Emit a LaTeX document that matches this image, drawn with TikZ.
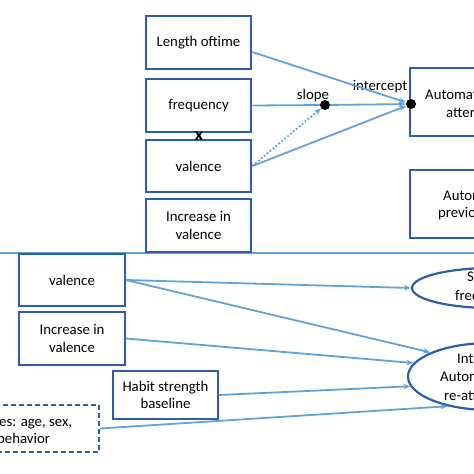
\documentclass[tikz,border=0pt]{standalone}
\usepackage{fontspec}
\setmainfont{Carlito}
\usetikzlibrary{shapes.geometric,arrows.meta,positioning}
\definecolor{boxblue}{RGB}{44,94,172}
\definecolor{linkblue}{RGB}{98,162,218}

\begin{document}
\begin{tikzpicture}[x=1pt, y=-1pt,
    blk/.style={draw=boxblue, line width=2.2pt, minimum width=105.5pt, minimum height=52.5pt, align=center, inner sep=2pt, font=\fontsize{14.8}{17.5}\selectfont},
    oval/.style={ellipse, draw=boxblue, line width=2.2pt, inner sep=0pt},
    link/.style={draw=linkblue, line width=1.8pt, -{Stealth[length=7pt,width=5.5pt]}},
    dot/.style={circle, fill=black, minimum size=10pt, inner sep=0pt},
    lbl/.style={font=\fontsize{14.8}{17.5}\selectfont, inner sep=0pt, anchor=base west}]
    \useasboundingbox (0,0) rectangle (474,474);
    \clip (0,0) rectangle (474,474);

    % Separator
    \draw[linkblue, line width=1.6pt] (0,253) -- (474,253);

    % Upper model boxes
    \foreach \name/\txt/\y in {len/Length oftime/42.5, freq/frequency/105.5, val/valence/166, inc/{Increase in\\valence}/225.5} {
        \node[blk] (\name) at (198.5,\y) {\txt};
    }
    \node[font=\fontsize{18}{18}\selectfont\bfseries, inner sep=0pt] (cross) at (199,136) {x};

    % Outcome boxes (cut at the edge)
    \node[blk, minimum width=130pt, minimum height=68pt] (autatt) at (475,102) {};
    \node[lbl] (autatt1) at (425,99) {Automat};
    \node[lbl] (autatt2) at (446,117) {atter};
    \node[blk, minimum width=130pt, minimum height=68pt] (autprev) at (475,204) {};
    \node[lbl] (autprev1) at (443,200) {Autom};
    \node[lbl] (autprev2) at (438,217) {previo};

    % Growth parameters
    \node[dot] (slopept) at (325,105) {};
    \node[dot] (icpt) at (411,104) {};
    \node[font=\fontsize{14.8}{17.5}\selectfont, inner sep=0pt, anchor=base] (slopelbl) at (313,99) {slope};
    \node[font=\fontsize{14.8}{17.5}\selectfont, inner sep=0pt, anchor=base] (icptlbl) at (380,90.5) {intercept};

    \draw[link] (len.-10) -- (icpt);
    \draw[link, -] (freq.east) -- (slopept);
    \draw[link] (slopept) -- (icpt);
    \draw[link] (val.east) -- (icpt);
    \draw[link, dotted] (val.east) -- (slopept);

    % Lower model boxes
    \node[blk] (val2) at (72,280) {valence};
    \node[blk] (inc2) at (72,338.5) {Increase in\\valence};
    \node[blk, minimum width=104.5pt, minimum height=47.5pt] (habit) at (165.5,395) {Habit strength\\baseline};
    \node[blk, dashed, dash pattern=on 5pt off 3pt, minimum width=118pt, minimum height=47pt] (cov) at (40,428.5) {};
    \node[lbl] (cov1) at (-1,426.5) {es: age, sex,};
    \node[lbl] (cov2) at (-3,443) {behavior};

    % Outcome ellipses
    \node[oval, minimum width=160pt, minimum height=40pt] (freqov) at (492,288) {};
    \node[lbl] (freqov1) at (467,281.5) {S};
    \node[lbl] (freqov2) at (455,300) {freq};
    \node[oval, minimum width=164pt, minimum height=67pt] (intov) at (490,376.5) {};
    \node[lbl] (intov1) at (457,363) {Int};
    \node[lbl] (intov2) at (440,381.5) {Autom};
    \node[lbl] (intov3) at (444,400) {re-att};

    \draw[link] (val2.east) -- (freqov.west);
    \draw[link] (val2.east) -- (intov.158);
    \draw[link] (inc2.east) -- (intov.170);
    \draw[link] (habit.east) -- (intov.187);
    \draw[link] (cov.east) -- (intov.215);

\end{tikzpicture}
\end{document}
